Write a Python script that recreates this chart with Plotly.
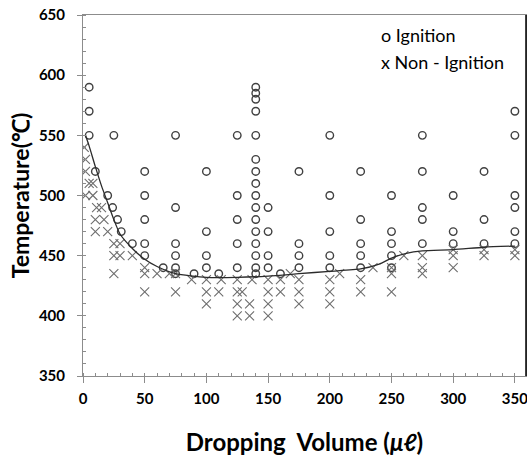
import plotly.graph_objs as go

# DATA

ign_x = [5, 5, 5, 10, 20, 24, 25, 28, 31, 40,
         50, 50, 50, 50, 50, 65,
         75, 75, 75, 75, 75, 75, 90,
         100, 100, 100, 100, 110,
         125, 125, 125, 125, 125,
         140, 140, 140, 140, 140, 140, 140, 140, 140, 140, 140, 140, 140, 140, 140, 140,
         150, 150, 150, 150, 160,
         175, 175, 175, 175,
         200, 200, 200, 200, 200,
         225, 225, 225, 225, 225,
         250, 250, 250, 250, 250,
         275, 275, 275, 275, 275,
         300, 300, 300,
         325, 325, 325,
         350, 350, 350, 350, 350, 350]
ign_y = [590, 570, 550, 520, 500, 490, 550, 480, 470, 460,
         520, 500, 480, 460, 450, 440,
         550, 490, 460, 450, 440, 435, 435,
         520, 470, 450, 440, 435,
         550, 500, 480, 460, 440,
         590, 585, 580, 570, 550, 530, 520, 510, 500, 490, 480, 470, 460, 450, 440, 435,
         490, 470, 450, 440, 435,
         520, 460, 450, 440,
         550, 500, 470, 450, 440,
         520, 480, 460, 450, 440,
         500, 470, 460, 450, 440,
         550, 520, 490, 480, 460,
         500, 470, 460,
         520, 480, 460,
         570, 550, 500, 490, 470, 460]

non_x = [1, 2, 2, 5, 8, 2, 8, 11, 15, 10, 17, 10, 20,
         25, 30, 25, 30, 40, 25,
         50, 50, 60, 70, 75, 50, 75, 88,
         100, 100, 100, 112, 110,
         125, 125, 129, 125, 125, 137, 135, 135,
         150, 150, 150, 150, 160, 160, 168,
         175, 175, 175, 200, 200, 200, 208,
         225, 225, 235, 250, 250, 250, 260,
         275, 275, 275,
         300, 300, 300, 325, 325, 350, 350]
non_y = [540, 530, 520, 510, 510, 500, 500, 490, 490, 480, 480, 470, 470,
         460, 460, 450, 450, 450, 435,
         440, 435, 435, 435, 435, 420, 420, 430,
         430, 420, 410, 430, 420,
         430, 420, 420, 410, 400, 430, 410, 400,
         430, 420, 410, 400, 430, 420, 435,
         430, 420, 410, 430, 420, 410, 435,
         430, 420, 440, 440, 435, 420, 450,
         450, 440, 435,
         455, 450, 440, 455, 450, 455, 450]

line_x = [2, 5, 10, 15, 20, 25, 30, 40, 50, 60, 75, 100, 125, 150, 175,
          200, 225, 240, 250, 262, 275, 300, 325, 350]
line_y = [550, 541, 524, 508, 494, 480, 468, 456, 447, 441, 435, 432, 432, 433, 435,
          437, 439, 443, 448, 452, 454, 455, 457, 458]

x_ticks = [0, 50, 100, 150, 200, 250, 300, 350]
y_ticks = [350, 400, 450, 500, 550, 600, 650]

FONT = 'Lato'

fig = go.Figure()
fig.add_trace(go.Scatter(x=ign_x, y=ign_y, mode='markers', name='Ignition',
    marker=dict(symbol='circle-open', size=7.5, color='#404040', line=dict(width=1.4))))
fig.add_trace(go.Scatter(x=non_x, y=non_y, mode='markers', name='Non - Ignition',
    marker=dict(symbol='x-thin-open', size=9, color='#6e6e6e', line=dict(width=1.1))))
fig.add_trace(go.Scatter(x=line_x, y=line_y, mode='lines', name='boundary',
    line=dict(color='#2b2b2b', width=1.3, shape='spline', smoothing=0.6)))

fig.update_layout(
    width=527, height=456,
    margin=dict(l=83, r=1, t=15, b=80),
    paper_bgcolor='white', plot_bgcolor='white',
    showlegend=False,
    font=dict(family=FONT, color='black'),
)
fig.update_xaxes(range=[0, 359], tickvals=x_ticks, showgrid=False, zeroline=False,
    automargin=False, ticklabeloverflow='allow',
    showline=True, linecolor='#8c8c8c', linewidth=1, mirror=True,
    ticks='outside', ticklen=6, tickcolor='#8c8c8c', ticklabelstandoff=3,
    minor=dict(dtick=10, ticks='inside', ticklen=3, tickcolor='#8c8c8c'),
    tickfont=dict(family=FONT, size=15, weight='bold'),
    title=dict(text='Dropping\u00a0 Volume (<i>μℓ</i>)', standoff=28,
               font=dict(family=FONT, size=24, weight='bold')))
fig.update_yaxes(range=[350, 650], tickvals=y_ticks, showgrid=False, zeroline=False,
    automargin=False,
    showline=True, linecolor='#8c8c8c', linewidth=1, mirror=True,
    ticks='outside', ticklen=5, tickcolor='#8c8c8c', ticklabelstandoff=9,
    minor=dict(dtick=10, ticks='inside', ticklen=3, tickcolor='#8c8c8c'),
    tickfont=dict(family=FONT, size=15, weight='bold'),
    title=dict(text='Temperature(℃)', standoff=2,
               font=dict(family=FONT, size=23, weight='bold')))

# right border of the chart frame
fig.add_shape(type='line', xref='paper', yref='paper', x0=1, x1=1, y0=0, y1=1,
              line=dict(color='black', width=1.5))

# text legend in the top right corner
fig.add_annotation(text='o Ignition', xref='paper', yref='paper', x=0.668, y=0.945,
                   xanchor='left', yanchor='middle', showarrow=False,
                   font=dict(family=FONT, size=18, color='black'))
fig.add_annotation(text='x Non - Ignition', xref='paper', yref='paper', x=0.668, y=0.869,
                   xanchor='left', yanchor='middle', showarrow=False,
                   font=dict(family=FONT, size=18, color='black'))

# page body has a default 8px margin, drop it so the figure sits at the corner
fig.write_html('out.html', config={'displayModeBar': False},
               post_script="document.body.style.margin='0';")
